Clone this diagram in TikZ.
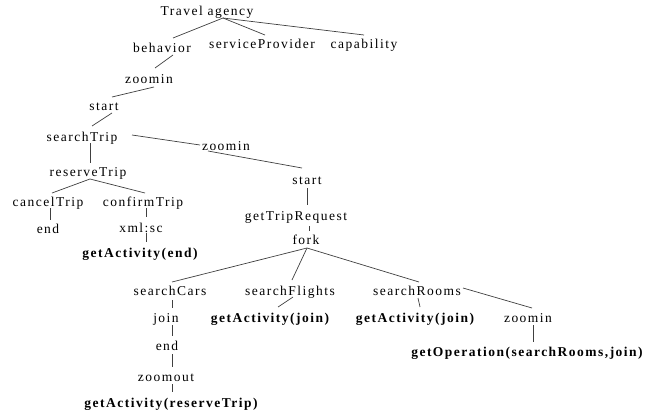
\documentclass[tikz,border=0pt]{standalone}
\usepackage{fontspec}
\setmainfont{Liberation Serif}[LetterSpace=11]
\newcommand\lnk[4]{\draw[edge] ([shift={#2}]#1.center) -- ([shift={#4}]#3.center);}
\begin{document}
\begin{tikzpicture}[x=1pt,y=-1pt,
  lbl/.style={inner sep=0pt,text height=9pt,text depth=0pt,font=\fontsize{13.5}{15}\selectfont},
  blbl/.style={lbl,font=\fontsize{13.5}{15}\selectfont\bfseries},
  edge/.style={line width=0.7pt,draw=black!75}]
\useasboundingbox[fill=white] (0,0) rectangle (658,415);
\node[lbl] (ta) at (207,11) {Travel agency};
\node[lbl] (beh) at (162,48) {behavior};
\node[lbl] (sp) at (262,44) {serviceProvider};
\node[lbl] (cap) at (364,44) {capability};
\node[lbl] (z1) at (149,79) {zoomin};
\node[lbl] (st1) at (104,106) {start};
\node[lbl] (sT) at (82,137) {searchTrip};
\node[lbl] (z2) at (226,146) {zoomin};
\node[lbl] (st2) at (307,180) {start};
\node[lbl] (rT) at (88,172) {reserveTrip};
\node[lbl] (cT) at (48,202) {cancelTrip};
\node[lbl] (cfT) at (143,202) {confirmTrip};
\node[lbl] (e1) at (48,229) {end};
\node[lbl] (xml) at (141,228) {xml:sc};
\node[blbl] (ga1) at (140,253) {getActivity(end)};
\node[lbl] (gTR) at (296,216) {getTripRequest};
\node[lbl] (fork) at (306,240) {fork};
\node[lbl] (sC) at (170,291) {searchCars};
\node[lbl] (sF) at (290,291) {searchFlights};
\node[lbl] (sR) at (417,291) {searchRooms};
\node[blbl] (gaF) at (270,318) {getActivity(join)};
\node[blbl] (gaR) at (415,318) {getActivity(join)};
\node[lbl] (z3) at (528,318) {zoomin};
\node[lbl] (join) at (166,318) {join};
\node[lbl] (e2) at (167,346) {end};
\node[lbl] (zo) at (166,377) {zoomout};
\node[blbl] (gaRT) at (171,403) {getActivity(reserveTrip)};
\node[blbl] (gOp) at (527,352) {getOperation(searchRooms,join)};
\lnk{ta}{(16,7)}{beh}{(11,-10)}
\lnk{ta}{(16,7)}{sp}{(3,-9)}
\lnk{ta}{(16,7)}{cap}{(0,-9)}
\lnk{beh}{(11,7)}{z1}{(6,-11)}
\lnk{z1}{(5,8)}{st1}{(8,-9)}
\lnk{st1}{(8,7)}{sT}{(10,-11)}
\lnk{sT}{(50,-2)}{z2}{(-26,-1)}
\lnk{z2}{(-18,5)}{st2}{(-5,-12)}
\lnk{sT}{(8,6)}{rT}{(2,-9)}
\lnk{rT}{(2,7)}{cT}{(4,-9)}
\lnk{rT}{(2,7)}{cfT}{(2,-9)}
\lnk{cT}{(2,6)}{e1}{(2,-9)}
\lnk{cfT}{(3,6)}{xml}{(5,-11)}
\lnk{xml}{(5,5)}{ga1}{(6,-11)}
\lnk{st2}{(0,8)}{gTR}{(11,-11)}
\lnk{gTR}{(13,10)}{fork}{(3,-9)}
\lnk{fork}{(1,8)}{sC}{(2,-9)}
\lnk{fork}{(1,8)}{sF}{(2,-11)}
\lnk{fork}{(1,8)}{sR}{(2,-9)}
\lnk{sR}{(46,-3)}{z3}{(4,-10)}
\lnk{sR}{(1,7)}{gaR}{(5,-11)}
\lnk{z3}{(5,7)}{gOp}{(6,-10)}
\lnk{sF}{(3,6)}{gaF}{(8,-11)}
\lnk{sC}{(2,9)}{join}{(6,-10)}
\lnk{join}{(6,7)}{e2}{(5,-10)}
\lnk{e2}{(5,8)}{zo}{(6,-10)}
\lnk{zo}{(6,7)}{gaRT}{(1,-11)}
\end{tikzpicture}
\end{document}
